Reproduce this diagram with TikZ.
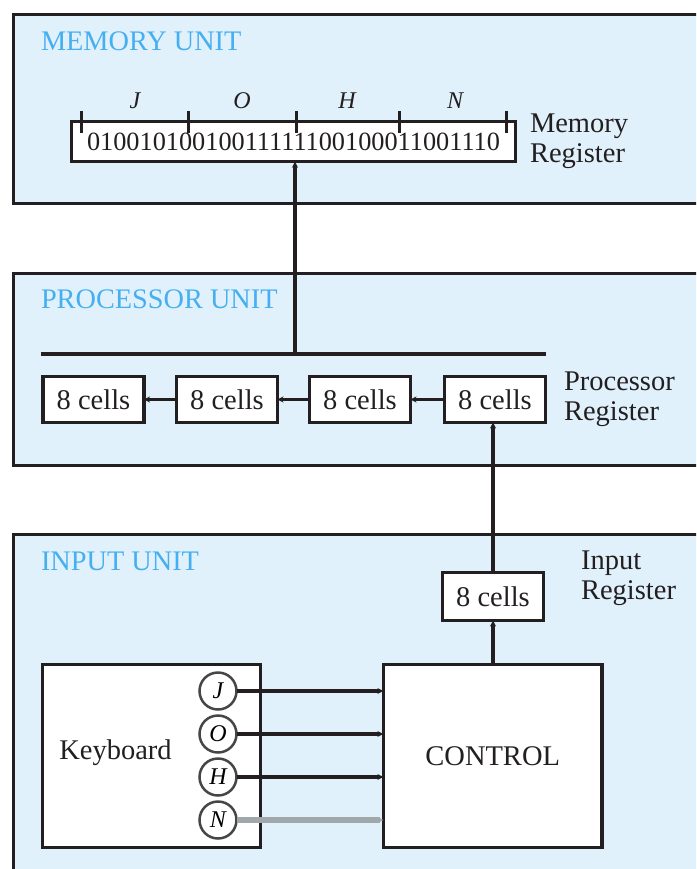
\documentclass[tikz,border=0pt]{standalone}
\usepackage{fontspec}
\setmainfont{Liberation Serif}
\usetikzlibrary{arrows.meta}
\definecolor{framecol}{RGB}{35,31,32}
\definecolor{unitfill}{RGB}{224,241,252}
\definecolor{unittitle}{RGB}{70,175,240}
\definecolor{keygrey}{RGB}{70,70,70}
\definecolor{busgrey}{RGB}{160,168,172}
\begin{document}
\begin{tikzpicture}[x=1pt,y=-1pt,
  every node/.style={inner sep=0pt, outer sep=0pt},
  txt/.style={font=\fontsize{28.5}{30}\selectfont, text=framecol},
  unitbox/.style={draw=framecol, line width=3.3pt, fill=unitfill, anchor=north west},
  unitname/.style={font=\fontsize{28.3}{30}\selectfont, text=unittitle, anchor=west},
  cellbox/.style={draw=framecol, line width=3.3pt, fill=white, txt,
    minimum width=101pt, minimum height=46pt},
  bigbox/.style={draw=framecol, line width=3.3pt, fill=white, txt,
    minimum width=218pt, minimum height=183pt},
  keycirc/.style={circle, draw=keygrey, line width=2.5pt, fill=white,
    minimum size=37pt, font=\fontsize{24}{26}\selectfont\itshape},
  reglabel/.style={txt, anchor=west, align=left},
  link/.style={draw=framecol, line width=3.3pt, -{Stealth[length=6pt,width=6pt]}},
  tick/.style={draw=framecol, line width=3pt},
  letter/.style={font=\fontsize{24}{26}\selectfont\itshape, text=framecol}]
\useasboundingbox (0,0) rectangle (696,869);
\clip (0,0) rectangle (696,869);

% ---------- unit frames ----------
\node[unitbox, minimum width=720pt, minimum height=188.8pt] (memunit) at (13.6,14.6) {};
\node[unitbox, minimum width=720pt, minimum height=192pt] (procunit) at (13.6,273.3) {};
\node[unitbox, minimum width=720pt, minimum height=380pt] (inunit) at (13.6,534.6) {};
\node[unitname] (memtitle) at (41,41) {MEMORY UNIT};
\node[unitname] (proctitle) at (41,299) {PROCESSOR UNIT};
\node[unitname] (intitle) at (41,561) {INPUT UNIT};

% ---------- memory register ----------
\node[draw=framecol, line width=3.3pt, fill=white, minimum width=443.7pt, minimum height=40pt,
  font=\fontsize{26.3}{28}\selectfont, text=framecol] (memreg) at (293.5,141.7)
  {01001010010011111100100011001110};
\foreach \x/\n in {81/t0,188/t1,296/t2,399/t3,506/t4}
  \draw[tick] (\x,111) coordinate (\n) -- (\x,133);
\node[letter] (lj) at (135,101) {J};
\node[letter] (lo) at (242,101) {O};
\node[letter] (lh) at (347,101) {H};
\node[letter] (ln) at (455,101) {N};
\node[reglabel] (memlabel) at (530,141) {Memory\\Register};

% ---------- processor register ----------
\coordinate (busl) at (41,354);
\coordinate (busr) at (546,354);
\coordinate (busjoin) at (295,354);
\draw[framecol, line width=3.3pt] (busl) -- (busr);
\draw[link] (busjoin) -- (busjoin |- memreg.south);
\node[cellbox] (p1) at (93.5,399.5) {8 cells};
\node[cellbox] (p2) at (227,399.5) {8 cells};
\node[cellbox] (p3) at (360,399.5) {8 cells};
\node[cellbox] (p4) at (495,399.5) {8 cells};
\draw[link] (p2) -- (p1);
\draw[link] (p3) -- (p2);
\draw[link] (p4) -- (p3);
\node[reglabel] (proclabel) at (564,399) {Processor\\Register};

% ---------- input unit ----------
\node[cellbox, minimum height=48pt] (inreg) at (493,596.5) {8 cells};
\node[reglabel] (inlabel) at (581,578) {Input\\Register};
\draw[link] (inreg.north) -- (inreg.north |- p4.south);

\node[bigbox] (keyboard) at (151.6,756) {};
\node[txt] (keytext) at (115.5,753) {Keyboard};
\node[bigbox, minimum width=218.6pt] (control) at (492.7,756) {CONTROL};
\draw[link] (control.north -| inreg) -- (inreg.south);

\node[keycirc] (kj) at (218,691) {J};
\node[keycirc] (ko) at (218,734) {O};
\node[keycirc] (kh) at (218,777) {H};
\node[keycirc] (kn) at (218,820) {N};
\draw[link] (kj.east) -- (kj.east -| control.west);
\draw[link] (ko.east) -- (ko.east -| control.west);
\draw[link] (kh.east) -- (kh.east -| control.west);
\draw[link, draw=busgrey, line width=6pt] (kn.east) -- (kn.east -| control.west);
\end{tikzpicture}
\end{document}
